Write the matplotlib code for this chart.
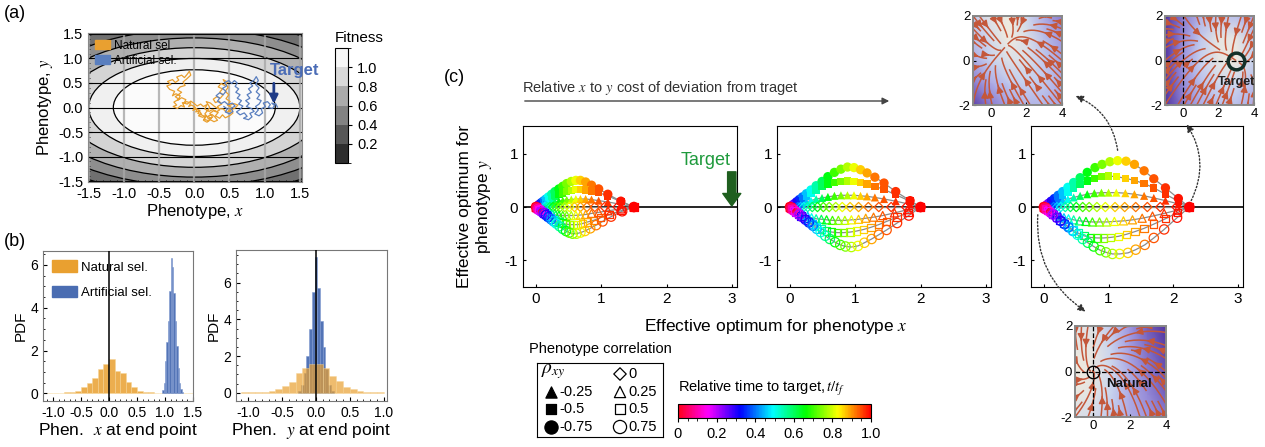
import numpy as np
import matplotlib
matplotlib.use("Agg")
import matplotlib.pyplot as plt
from matplotlib.patches import Ellipse, Patch
from matplotlib.colors import ListedColormap, BoundaryNorm, LinearSegmentedColormap, Normalize
from matplotlib.cm import ScalarMappable
from matplotlib.ticker import MultipleLocator

plt.rcParams['font.family'] = ['Liberation Sans', 'DejaVu Sans']
plt.rcParams['mathtext.fontset'] = 'stix'
plt.rcParams['axes.unicode_minus'] = False

W, H = 1265, 447

# ---------------- data: panel (a) ----------------
ell_a = [2.93, 2.67, 2.40, 2.13, 1.83, 1.50, 1.15]
ell_b = [1.95, 1.78, 1.60, 1.42, 1.22, 1.00, 0.77]
ell_gray = ['#555555', '#707070', '#8e8e8e', '#b0b0b0', '#d4d4d4', '#f0f0f0', '#fbfbfb']
fit_levels = [0, 0.2, 0.4, 0.6, 0.8, 1.0, 1.2]
fit_colors = ['#2e2e2e', '#575757', '#838383', '#ababab', '#d9d9d9', '#f7f7f7']

nat_path = [
    (0.00, 0.00), (0.04, -0.04), (0.02, -0.09), (0.07, -0.07), (0.10, -0.13), (0.06, -0.17),
    (0.12, -0.20), (0.17, -0.16), (0.14, -0.24), (0.20, -0.27), (0.24, -0.22), (0.19, -0.18),
    (0.25, -0.14), (0.29, -0.19), (0.33, -0.26), (0.28, -0.29), (0.23, -0.25), (0.18, -0.30),
    (0.13, -0.26), (0.16, -0.19), (0.10, -0.15), (0.05, -0.12), (0.08, -0.06), (0.03, -0.03),
    (-0.02, -0.06), (0.01, 0.01), (-0.04, 0.05), (-0.08, 0.02), (-0.05, 0.09), (-0.11, 0.12),
    (-0.15, 0.08), (-0.12, 0.16), (-0.18, 0.20), (-0.23, 0.15), (-0.20, 0.24), (-0.26, 0.28),
    (-0.31, 0.24), (-0.28, 0.33), (-0.35, 0.37), (-0.39, 0.44), (-0.33, 0.47), (-0.38, 0.53),
    (-0.31, 0.57), (-0.27, 0.51), (-0.22, 0.56), (-0.25, 0.62), (-0.18, 0.66), (-0.14, 0.61),
    (-0.10, 0.68), (-0.07, 0.74), (-0.05, 0.66), (-0.11, 0.58), (-0.16, 0.52), (-0.13, 0.45),
    (-0.20, 0.42), (-0.24, 0.36), (-0.18, 0.31), (-0.27, 0.22), (-0.22, 0.17), (-0.29, 0.11),
    (-0.25, 0.05), (-0.30, 0.02), (-0.24, -0.02), (-0.19, 0.04), (-0.14, 0.01), (-0.17, 0.10),
    (-0.10, 0.07), (-0.05, 0.13), (0.00, 0.08), (0.04, 0.03), (0.09, 0.07), (0.13, 0.02),
    (0.18, 0.06), (0.15, -0.03), (0.21, -0.08), (0.26, -0.04), (0.31, -0.09), (0.36, -0.05),
    (0.33, 0.02), (0.39, 0.07), (0.35, 0.13), (0.30, 0.10), (0.27, 0.17), (0.32, 0.22),
    (0.37, 0.19), (0.41, 0.26), (0.36, 0.31), (0.40, 0.38), (0.34, 0.42), (0.38, 0.49),
    (0.43, 0.45), (0.47, 0.52), (0.41, 0.57), (0.44, 0.50), (0.48, 0.41), (0.44, 0.33),
    (0.49, 0.26), (0.45, 0.18), (0.51, 0.12), (0.47, 0.05), (0.53, 0.00), (0.49, -0.07),
    (0.55, -0.11), (0.50, -0.17), (0.44, -0.21), (0.40, -0.15), (0.36, -0.22), (0.30, -0.17),
    (0.34, -0.10), (0.28, -0.06), (0.22, -0.12), (0.26, -0.20), (0.20, -0.23), (0.15, -0.13),
    (0.22, 0.00), (0.17, 0.12), (0.23, 0.09), (0.28, 0.03), (0.33, -0.02), (0.41, -0.03),
    (0.46, -0.10), (0.52, -0.05), (0.58, -0.01), (0.62, 0.05), (0.56, 0.08), (0.50, 0.04),
]
art_path = [
    (0.42, 0.02), (0.47, -0.03), (0.44, -0.09), (0.50, -0.13), (0.55, -0.08), (0.52, -0.02),
    (0.58, 0.03), (0.54, 0.09), (0.48, 0.06), (0.43, 0.12), (0.38, 0.08), (0.33, 0.13),
    (0.36, 0.19), (0.31, 0.24), (0.36, 0.30), (0.41, 0.26), (0.45, 0.33), (0.40, 0.39),
    (0.46, 0.44), (0.43, 0.51), (0.49, 0.55), (0.53, 0.49), (0.57, 0.55), (0.61, 0.50),
    (0.58, 0.43), (0.63, 0.38), (0.59, 0.31), (0.65, 0.26), (0.61, 0.19), (0.67, 0.14),
    (0.63, 0.07), (0.69, 0.03), (0.65, -0.04), (0.60, -0.09), (0.65, -0.15), (0.71, -0.11),
    (0.75, -0.18), (0.70, -0.22), (0.77, -0.25), (0.82, -0.19), (0.79, -0.12), (0.85, -0.08),
    (0.81, -0.02), (0.74, 0.02), (0.78, 0.08), (0.73, 0.14), (0.79, 0.19), (0.75, 0.26),
    (0.81, 0.31), (0.77, 0.38), (0.83, 0.44), (0.79, 0.50), (0.85, 0.56), (0.88, 0.63),
    (0.91, 0.55), (0.87, 0.47), (0.92, 0.40), (0.88, 0.32), (0.93, 0.26), (0.89, 0.18),
    (0.95, 0.14), (0.92, 0.07), (0.87, 0.02), (0.91, -0.05), (0.86, -0.13), (0.92, -0.17),
    (0.97, -0.11), (0.95, -0.03), (1.01, 0.02), (0.98, 0.09), (1.04, 0.12), (1.08, 0.06),
    (1.05, 0.00), (1.11, -0.02), (1.14, 0.04), (1.10, 0.09), (1.16, 0.07), (1.18, 0.01),
]

# ---------------- data: panel (b) ----------------
hx_nat_edges = [-1.1, -1.0, -0.9, -0.8, -0.7, -0.6, -0.5, -0.4, -0.3, -0.2, -0.1, 0.0, 0.1, 0.2,
                0.3, 0.4, 0.5, 0.6, 0.7, 0.8, 0.9, 1.0, 1.1, 1.2, 1.3, 1.4, 1.5]
hx_nat = [0.02, 0.02, 0.03, 0.05, 0.06, 0.12, 0.28, 0.47, 0.73, 1.14, 1.37, 1.62, 1.06, 0.97,
          0.55, 0.31, 0.10, 0.08, 0.05, 0.03, 0.02, 0.02, 0.02, 0.02, 0.02, 0.02]
hx_art_edges = [0.95, 0.975, 1.0, 1.025, 1.05, 1.075, 1.1, 1.125, 1.15, 1.175, 1.2, 1.225,
                1.25, 1.275, 1.3, 1.325]
hx_art = [0.15, 0.5, 1.5, 2.4, 3.4, 4.8, 6.3, 5.9, 4.7, 3.4, 2.2, 1.2, 0.5, 0.2, 0.05]

hy_nat_edges = [-1.1, -1.0, -0.9, -0.8, -0.7, -0.6, -0.5, -0.4, -0.3, -0.2, -0.1, 0.0, 0.1, 0.2,
                0.3, 0.4, 0.5, 0.6, 0.7, 0.8, 0.9, 1.0]
hy_nat = [0.03, 0.03, 0.04, 0.05, 0.1, 0.2, 0.35, 0.6, 1.05, 1.33, 1.56, 1.56, 1.33, 0.93,
          0.64, 0.3, 0.18, 0.1, 0.06, 0.04, 0.04]
hy_art_edges = [-0.26, -0.22, -0.18, -0.14, -0.10, -0.06, -0.02, 0.02, 0.06, 0.10, 0.14, 0.18,
                0.22, 0.26]
hy_art = [0.1, 0.4, 1.1, 2.0, 3.5, 5.5, 7.4, 5.7, 3.9, 2.5, 1.3, 0.4, 0.1]

# ---------------- data: panel (c) ----------------
T = [0.0, 0.05, 0.1, 0.15, 0.2, 0.25, 0.3, 0.35, 0.4, 0.45, 0.5, 0.55, 0.6, 0.65, 0.7,
     0.74, 0.78, 0.82, 0.86, 0.89, 0.92, 0.945, 0.965, 0.985, 1.0]

# panel 1
c1_x_n75 = [0, .005, .01, .015, .025, .04, .06, .085, .115, .15, .19, .24, .29, .35, .41, .47,
            .54, .61, .68, .76, .85, .96, 1.1, 1.3, 1.5]
c1_y_n75 = [0, .005, .01, .015, .025, .04, .06, .085, .115, .15, .19, .24, .29, .34, .39, .44,
            .48, .5, .5, .47, .41, .34, .24, .11, 0]
c1_y_n50 = [0, .004, .008, .012, .02, .03, .045, .065, .085, .11, .14, .17, .2, .23, .26, .29,
            .31, .33, .33, .32, .3, .27, .21, .1, 0]
c1_y_n25 = [0, .002, .004, .006, .01, .015, .022, .03, .04, .05, .065, .08, .095, .11, .12, .135,
            .14, .15, .15, .15, .14, .12, .095, .05, 0]
c1_x_0 = [0, .004, .008, .012, .02, .03, .045, .06, .08, .105, .135, .17, .21, .26, .31, .37,
          .44, .51, .59, .68, .78, .9, 1.05, 1.25, 1.5]
c1_x_p25 = [0, .008, .016, .03, .045, .065, .085, .11, .14, .17, .21, .25, .3, .35, .41, .47,
            .54, .61, .68, .76, .85, .96, 1.1, 1.3, 1.5]
c1_y_p25 = [0, -.008, -.016, -.028, -.04, -.055, -.07, -.085, -.1, -.115, -.13, -.14, -.15,
            -.155, -.16, -.16, -.16, -.155, -.15, -.14, -.12, -.1, -.07, -.035, 0]
c1_x_p50 = [0, .01, .025, .045, .07, .095, .12, .15, .18, .22, .26, .3, .35, .4, .45, .51, .57,
            .64, .71, .79, .88, .99, 1.12, 1.3, 1.5]
c1_y_p50 = [0, -.01, -.025, -.045, -.07, -.09, -.11, -.14, -.17, -.2, -.23, -.26, -.28, -.3,
            -.32, -.33, -.33, -.33, -.31, -.28, -.25, -.2, -.14, -.07, 0]
c1_x_p75 = [0, .015, .035, .06, .09, .12, .15, .19, .23, .27, .31, .36, .41, .46, .51, .56, .62,
            .68, .75, .83, .92, 1.02, 1.15, 1.32, 1.5]
c1_y_p75 = [0, -.015, -.035, -.06, -.09, -.12, -.15, -.19, -.23, -.27, -.31, -.36, -.41, -.45,
            -.48, -.5, -.5, -.48, -.45, -.4, -.34, -.27, -.18, -.08, 0]

# panel 2
c2_x_n75 = [0, .005, .01, .02, .035, .06, .1, .14, .19, .25, .32, .40, .49, .58, .68, .78, .88,
            .98, 1.08, 1.18, 1.30, 1.44, 1.62, 1.84, 2.0]
c2_y_n75 = [0, .005, .01, .02, .035, .06, .1, .14, .19, .25, .32, .40, .48, .57, .65, .71, .75,
            .74, .70, .64, .56, .45, .29, .12, 0]
c2_y_n50 = [0, .004, .008, .016, .03, .05, .08, .11, .15, .2, .26, .32, .38, .43, .46, .48, .49,
            .48, .46, .43, .39, .33, .23, .11, 0]
c2_y_n25 = [0, .002, .004, .008, .015, .025, .04, .055, .075, .1, .12, .15, .17, .19, .21, .22,
            .22, .22, .21, .2, .18, .15, .11, .05, 0]
c2_x_0 = [0, .005, .01, .02, .03, .045, .065, .09, .12, .16, .21, .27, .34, .42, .51, .6, .7, .8,
          .92, 1.05, 1.2, 1.36, 1.55, 1.78, 2.0]
c2_x_p25 = [0, .01, .02, .04, .06, .09, .12, .16, .21, .27, .33, .4, .48, .56, .65, .74, .84,
            .94, 1.05, 1.16, 1.28, 1.42, 1.6, 1.8, 2.0]
c2_y_p25 = [0, -.01, -.02, -.035, -.05, -.07, -.09, -.12, -.15, -.17, -.2, -.22, -.23, -.24,
            -.25, -.25, -.25, -.24, -.23, -.21, -.19, -.16, -.11, -.05, 0]
c2_x_p50 = [0, .015, .03, .06, .09, .13, .17, .22, .28, .34, .41, .48, .56, .64, .73, .82, .92,
            1.02, 1.13, 1.24, 1.36, 1.48, 1.64, 1.82, 2.0]
c2_y_p50 = [0, -.015, -.03, -.06, -.09, -.13, -.17, -.22, -.27, -.32, -.37, -.41, -.45, -.47,
            -.48, -.48, -.47, -.45, -.42, -.38, -.33, -.27, -.19, -.1, 0]
c2_x_p75 = [0, .02, .05, .09, .14, .19, .24, .29, .35, .41, .47, .54, .61, .69, .77, .85, .94,
            1.04, 1.14, 1.25, 1.36, 1.48, 1.64, 1.82, 2.0]
c2_y_p75 = [0, -.02, -.05, -.09, -.14, -.19, -.24, -.29, -.35, -.41, -.47, -.54, -.6, -.66,
            -.71, -.74, -.75, -.73, -.67, -.6, -.52, -.43, -.3, -.16, 0]

# panel 3
c3_x_n75 = [0, .005, .01, .02, .04, .07, .11, .16, .22, .29, .37, .46, .56, .67, .79, .90, 1.02,
            1.14, 1.27, 1.40, 1.55, 1.70, 1.88, 2.08, 2.25]
c3_y_n75 = [0, .005, .01, .02, .04, .07, .11, .16, .22, .29, .37, .46, .55, .65, .74, .80, .85,
            .87, .86, .80, .68, .53, .36, .16, 0]
c3_x_n50 = [0, .005, .01, .02, .04, .07, .11, .16, .22, .29, .37, .46, .56, .67, .78, .89, 1.0,
            1.12, 1.26, 1.40, 1.55, 1.70, 1.88, 2.08, 2.25]
c3_y_n50 = [0, .004, .008, .016, .032, .055, .085, .12, .17, .22, .28, .35, .42, .49, .54, .57,
            .58, .57, .54, .50, .44, .36, .24, .11, 0]
c3_y_n25 = [0, .002, .004, .008, .016, .03, .045, .065, .09, .12, .15, .18, .21, .24, .26, .27,
            .27, .27, .26, .24, .21, .17, .12, .06, 0]
c3_x_0 = [0, .005, .01, .02, .035, .055, .08, .11, .15, .2, .26, .33, .41, .5, .6, .7, .82, .95,
          1.1, 1.25, 1.42, 1.6, 1.8, 2.05, 2.25]
c3_x_p25 = [0, .01, .02, .04, .07, .1, .14, .19, .25, .31, .38, .46, .55, .65, .75, .86, .97,
            1.09, 1.23, 1.37, 1.52, 1.68, 1.86, 2.06, 2.25]
c3_y_p25 = [0, -.01, -.02, -.04, -.06, -.08, -.11, -.14, -.17, -.2, -.22, -.24, -.26, -.27,
            -.28, -.28, -.28, -.27, -.26, -.24, -.21, -.17, -.12, -.06, 0]
c3_x_p50 = [0, .015, .03, .06, .1, .14, .19, .25, .31, .38, .45, .53, .62, .72, .82, .92, 1.03,
            1.15, 1.28, 1.41, 1.55, 1.70, 1.88, 2.07, 2.25]
c3_y_p50 = [0, -.015, -.03, -.06, -.1, -.14, -.19, -.25, -.31, -.37, -.43, -.49, -.54, -.57,
            -.58, -.58, -.57, -.55, -.51, -.46, -.40, -.32, -.22, -.1, 0]
c3_x_p75 = [0, .02, .05, .09, .14, .2, .26, .32, .38, .45, .52, .6, .68, .77, .87, .96, 1.06,
            1.17, 1.3, 1.42, 1.56, 1.70, 1.86, 2.06, 2.25]
c3_y_p75 = [0, -.02, -.05, -.09, -.14, -.2, -.26, -.32, -.38, -.45, -.52, -.6, -.67, -.74, -.81,
            -.85, -.88, -.88, -.86, -.8, -.71, -.58, -.42, -.2, 0]

# ---------------- data: insets (grid nodes) ----------------
ins_x = [-1, 0, 1, 2, 3, 4]
ins_y = [-2, -1, 0, 1, 2]
bg1 = [[0.95, 0.75, 0.60, 0.50, 0.50, 0.60],
       [0.75, 0.55, 0.40, 0.35, 0.40, 0.55],
       [0.55, 0.35, 0.20, 0.20, 0.40, 0.60],
       [0.45, 0.25, 0.05, 0.20, 0.45, 0.65],
       [0.40, 0.15, 0.05, 0.30, 0.55, 0.75]]
u1 = [[0.20, -0.41, -1.03, -1.64, -2.25, -2.87],
      [0.55, -0.07, -0.68, -1.29, -1.90, -2.52],
      [0.90, 0.28, -0.33, -0.94, -1.56, -2.17],
      [1.24, 0.63, 0.02, -0.60, -1.21, -1.82],
      [1.59, 0.98, 0.36, -0.25, -0.86, -1.48]]
v1 = [[1.15, 1.50, 1.84, 2.19, 2.54, 2.88],
      [0.47, 0.81, 1.16, 1.51, 1.86, 2.20],
      [-0.22, 0.13, 0.48, 0.83, 1.17, 1.52],
      [-0.90, -0.55, -0.20, 0.14, 0.49, 0.84],
      [-1.58, -1.23, -0.89, -0.54, -0.19, 0.16]]
bg2 = [[1.00, 0.75, 0.55, 0.45, 0.45, 0.55],
       [1.00, 0.70, 0.45, 0.30, 0.30, 0.45],
       [1.00, 0.65, 0.35, 0.12, 0.05, 0.35],
       [1.00, 0.70, 0.40, 0.12, 0.12, 0.40],
       [1.00, 0.75, 0.50, 0.40, 0.45, 0.60]]
u2 = [[2.7, 2.2, 1.7, 1.2, 0.7, 0.2],
      [2.35, 1.85, 1.35, 0.85, 0.35, -0.15],
      [2.0, 1.5, 1.0, 0.5, 0.0, -0.5],
      [1.65, 1.15, 0.65, 0.15, -0.35, -0.85],
      [1.3, 0.8, 0.3, -0.2, -0.7, -1.2]]
v2 = [[3.4, 3.05, 2.7, 2.35, 2.0, 1.65],
      [2.4, 2.05, 1.7, 1.35, 1.0, 0.65],
      [1.4, 1.05, 0.7, 0.35, 0.0, -0.35],
      [0.4, 0.05, -0.3, -0.65, -1.0, -1.35],
      [-0.6, -0.95, -1.3, -1.65, -2.0, -2.35]]
bg3 = [[0.20, 0.25, 0.40, 0.55, 0.65, 0.75],
       [0.10, 0.15, 0.35, 0.55, 0.70, 0.85],
       [0.05, 0.10, 0.30, 0.55, 0.75, 0.90],
       [0.10, 0.12, 0.35, 0.60, 0.80, 0.95],
       [0.15, 0.18, 0.40, 0.65, 0.85, 1.00]]
u3 = [[1.3, 0.6, -0.1, -0.8, -1.5, -2.2],
      [1.0, 0.3, -0.4, -1.1, -1.8, -2.5],
      [0.7, 0.0, -0.7, -1.4, -2.1, -2.8],
      [0.4, -0.3, -1.0, -1.7, -2.4, -3.1],
      [0.1, -0.6, -1.3, -2.0, -2.7, -3.4]]
v3 = [[1.3, 1.8, 2.3, 2.8, 3.3, 3.8],
      [0.4, 0.9, 1.4, 1.9, 2.4, 2.9],
      [-0.5, 0.0, 0.5, 1.0, 1.5, 2.0],
      [-1.4, -0.9, -0.4, 0.1, 0.6, 1.1],
      [-2.3, -1.8, -1.3, -0.8, -0.3, 0.2]]

ORANGE = '#e9a030'
BLUE = '#5a7fbf'
HBLUE = '#4a6db2'

fig = plt.figure(figsize=(W / 100, H / 100), dpi=100)


def px_axes(l, t, r, b):
    return fig.add_axes([l / W, 1 - b / H, (r - l) / W, (b - t) / H])


def fig_text(x, y, s, **kw):
    fig.text(x / W, 1 - y / H, s, **kw)


# ================= panel (a) =================
ax = px_axes(88, 33, 302, 182)
ax.set_facecolor('#3a3a3a')
for a, b, g in zip(ell_a, ell_b, ell_gray):
    ax.add_patch(Ellipse((0, 0), 2 * a, 2 * b, facecolor=g, edgecolor='k', lw=0.9, zorder=1))
for v in [-1.5, -1.0, -0.5, 0.0, 0.5, 1.0, 1.5]:
    ax.axvline(v, color='#a8a8a8', lw=1.6, alpha=0.8, zorder=2)
    ax.axhline(v, color='k', lw=0.8, zorder=2)
ax.plot([p[0] for p in nat_path], [p[1] for p in nat_path], color=ORANGE, lw=0.9, zorder=3)
ax.plot([p[0] for p in art_path], [p[1] for p in art_path], color=BLUE, lw=0.9, zorder=4)
ax.annotate('', xy=(1.13, 0.02), xytext=(1.13, 0.55),
            arrowprops=dict(arrowstyle='-|>', color='#1f3c88', lw=2, mutation_scale=12), zorder=5)
ax.text(1.07, 0.76, 'Target', color='#4a6cb6', fontsize=12, fontweight='bold',
        va='center', ha='left', clip_on=False, zorder=6)
ax.legend(handles=[Patch(color=ORANGE, label='Natural sel.'), Patch(color=BLUE, label='Artificial sel.')],
          loc='upper left', frameon=False, fontsize=8.5, handlelength=1.3, handleheight=0.8,
          borderaxespad=0.2, labelspacing=0.25, handletextpad=0.3)
ax.set_xlim(-1.51, 1.53)
ax.set_ylim(-1.52, 1.52)
ax.set_xticks([-1.5, -1.0, -0.5, 0.0, 0.5, 1.0, 1.5])
ax.set_yticks([-1.5, -1.0, -0.5, 0.0, 0.5, 1.0, 1.5])
ax.set_xticklabels(['-1.5', '-1.0', '-0.5', '0.0', '0.5', '1.0', '1.5'])
ax.set_yticklabels(['-1.5', '-1.0', '-0.5', '0.0', '0.5', '1.0', '1.5'])
ax.xaxis.set_minor_locator(MultipleLocator(0.1))
ax.yaxis.set_minor_locator(MultipleLocator(0.1))
ax.tick_params(which='both', direction='in', labelsize=10.5, length=3)
ax.tick_params(which='minor', length=1.5)
for s in ax.spines.values():
    s.set_color('#888888')
ax.set_xlabel('Phenotype, $x$', fontsize=12, labelpad=1)
ax.set_ylabel('Phenotype, $y$', fontsize=12, labelpad=2)

cax = px_axes(335, 48, 348, 163)
fig.colorbar(ScalarMappable(norm=BoundaryNorm(fit_levels, 6), cmap=ListedColormap(fit_colors)),
             cax=cax, ticks=[0.2, 0.4, 0.6, 0.8, 1.0])
cax.set_yticklabels(['0.2', '0.4', '0.6', '0.8', '1.0'])
cax.tick_params(labelsize=10.5, length=3)
fig_text(335, 38, 'Fitness', fontsize=11, va='center', ha='left')

fig_text(4, 14, '(a)', fontsize=13, va='center')
fig_text(4, 241, '(b)', fontsize=13, va='center')
fig_text(444, 77, '(c)', fontsize=13, va='center')

# ================= panel (b) =================
def hist_bars(axh, edges, vals, color, edge, alpha, z):
    axh.bar(edges[:-1], vals, width=np.diff(edges), align='edge', color=color, alpha=alpha,
            edgecolor=edge, lw=0.4, zorder=z)


bx = px_axes(43, 251, 193, 401)
hist_bars(bx, hx_nat_edges, hx_nat, ORANGE, '#f6d596', 0.85, 2)
hist_bars(bx, hx_art_edges, hx_art, HBLUE, '#7d98cf', 0.95, 3)
bx.axvline(0, color='k', lw=1.1, zorder=4)
bx.set_xlim(-1.18, 1.48)
bx.set_ylim(-0.36, 6.65)
bx.set_xticks([-1.0, -0.5, 0.0, 0.5, 1.0, 1.5])
bx.set_xticklabels(['-1.0', '-0.5', '0.0', '0.5', '1.0', '1.5'])
bx.set_yticks([0, 2, 4, 6])
bx.legend(handles=[Patch(color=ORANGE, label='Natural sel.'), Patch(color=HBLUE, label='Artificial sel.')],
          loc='upper left', frameon=False, fontsize=9.5, handlelength=1.9, handleheight=1.0,
          borderaxespad=0.3, labelspacing=0.9, handletextpad=0.3)
bx.set_xlabel('Phen.  $x$ at end point', fontsize=12.5, labelpad=1)
bx.set_ylabel('PDF', fontsize=11, labelpad=2)

by = px_axes(236, 250, 387, 401)
hist_bars(by, hy_art_edges, hy_art, HBLUE, '#7d98cf', 0.95, 2)
hist_bars(by, hy_nat_edges, hy_nat, ORANGE, '#f6d596', 0.7, 3)
by.axvline(0, color='k', lw=1.1, zorder=4)
by.set_xlim(-1.18, 1.05)
by.set_ylim(-0.45, 7.78)
by.set_xticks([-1.0, -0.5, 0.0, 0.5, 1.0])
by.set_xticklabels(['-1.0', '-0.5', '0.0', '0.5', '1.0'])
by.set_yticks([0, 2, 4, 6])
by.set_xlabel('Phen.  $y$ at end point', fontsize=12.5, labelpad=1)
by.set_ylabel('PDF', fontsize=11, labelpad=2)

for a_ in (bx, by):
    a_.xaxis.set_minor_locator(MultipleLocator(0.1))
    a_.yaxis.set_minor_locator(MultipleLocator(0.5))
    a_.tick_params(which='both', direction='in', labelsize=10, length=3)
    a_.tick_params(which='minor', length=1.5)
    for s in a_.spines.values():
        s.set_color('#777777')

# ================= panel (c) =================
cm = plt.get_cmap('hsv_r')
c_panels = [
    [(c1_x_n75, c1_y_n75, 'o', True), (c1_x_n75, c1_y_n50, 's', True), (c1_x_n75, c1_y_n25, '^', True),
     (c1_x_0, [0] * len(c1_x_0), 'D', False), (c1_x_p25, c1_y_p25, '^', False),
     (c1_x_p50, c1_y_p50, 's', False), (c1_x_p75, c1_y_p75, 'o', False)],
    [(c2_x_n75, c2_y_n75, 'o', True), (c2_x_n75, c2_y_n50, 's', True), (c2_x_n75, c2_y_n25, '^', True),
     (c2_x_0, [0] * len(c2_x_0), 'D', False), (c2_x_p25, c2_y_p25, '^', False),
     (c2_x_p50, c2_y_p50, 's', False), (c2_x_p75, c2_y_p75, 'o', False)],
    [(c3_x_n75, c3_y_n75, 'o', True), (c3_x_n50, c3_y_n50, 's', True), (c3_x_n50, c3_y_n25, '^', True),
     (c3_x_0, [0] * len(c3_x_0), 'D', False), (c3_x_p25, c3_y_p25, '^', False),
     (c3_x_p50, c3_y_p50, 's', False), (c3_x_p75, c3_y_p75, 'o', False)],
]
msize = {'o': 45, 's': 28, '^': 34, 'D': 22}
c_boxes = [(523, 737), (777, 991), (1031, 1243)]
c_axes = []
for (l, r), curves in zip(c_boxes, c_panels):
    axc = px_axes(l, 126, r, 287)
    axc.axhline(0, color='k', lw=1.2, zorder=1)
    for xs, ys, m, filled in curves:
        axc.plot(xs, ys, color='#8a8a8a', lw=0.9, zorder=2)
        if filled:
            axc.scatter(xs, ys, c=T, cmap=cm, vmin=0, vmax=1, marker=m, s=msize[m],
                        edgecolors='none', zorder=3)
        else:
            axc.scatter(xs, ys, marker=m, s=msize[m], facecolors='none',
                        edgecolors=cm(np.array(T)), linewidths=0.9, zorder=3)
    axc.set_xlim(-0.2, 3.08)
    axc.set_ylim(-1.5, 1.52)
    axc.set_xticks([0, 1, 2, 3])
    axc.set_yticks([-1, 0, 1])
    axc.tick_params(direction='in', length=2, labelsize=11)
    c_axes.append(axc)

c_axes[0].set_ylabel('Effective optimum for\nphenotype $y$', fontsize=12.5, labelpad=8,
                     linespacing=1.1)
c_axes[0].annotate('', xy=(3.0, 0.02), xytext=(3.0, 0.66),
                   arrowprops=dict(facecolor='#1f5f1f', edgecolor='#1f5f1f', width=6,
                                   headwidth=13, headlength=9))
c_axes[0].text(2.6, 0.88, 'Target', color='#1e9a3c', fontsize=13, ha='center', va='center')
fig_text(776, 327, 'Effective optimum for phenotype $x$', fontsize=12.5, ha='center', va='center')

fig_text(522, 88, 'Relative $x$ to $y$ cost of deviation from traget', fontsize=10.5,
         color='#333333', va='center')
fig.add_artist(matplotlib.patches.FancyArrowPatch((522 / W, 1 - 101 / H), (892 / W, 1 - 101 / H),
                                                  transform=fig.transFigure, arrowstyle='-|>',
                                                  mutation_scale=10, color='#444444', lw=1))

# legend box for rho
fig_text(529, 349, 'Phenotype correlation', fontsize=10.5, va='center')
lg = px_axes(537, 363, 663, 437)
lg.set_xlim(537, 663)
lg.set_ylim(437, 363)
lg.set_xticks([])
lg.set_yticks([])
lg.text(541, 372, r'$\rho_{xy}$', fontsize=14, va='center')
leg_rows = [(620, 374, 'D', False, '0'), (551, 392, '^', True, '-0.25'), (620, 392, '^', False, '0.25'),
            (551, 409, 's', True, '-0.5'), (620, 409, 's', False, '0.5'),
            (551, 427, 'o', True, '-0.75'), (620, 427, 'o', False, '0.75')]
for x0, y0, m, filled, lab in leg_rows:
    lg.scatter([x0], [y0], marker=m, s={'o': 90, 's': 60, '^': 65, 'D': 40}[m],
               facecolors='k' if filled else 'none', edgecolors='k', linewidths=0.9)
    lg.text(x0 + 8, y0, lab, fontsize=10.5, va='center')

# time colorbar
fig_text(678, 388, 'Relative time to target,$\\,t/t_f$', fontsize=10.5, va='center')
tax = px_axes(678, 404, 871, 418)
fig.colorbar(ScalarMappable(norm=Normalize(0, 1), cmap=cm), cax=tax, orientation='horizontal',
             ticks=[0, 0.2, 0.4, 0.6, 0.8, 1.0])
tax.set_xticklabels(['0', '0.2', '0.4', '0.6', '0.8', '1.0'])
tax.xaxis.set_minor_locator(MultipleLocator(0.05))
tax.tick_params(which='both', labelsize=10.5, length=3)
tax.tick_params(which='minor', length=2)

# ================= insets =================
bg_cmap = LinearSegmentedColormap.from_list('bg', ['#f6eedb', '#c9d5ef', '#9c93de', '#5234a0'])
gx, gy = np.meshgrid(ins_x, ins_y)
ins_specs = [((973, 16, 1062, 105), bg1, u1, v1),
             ((1165, 16, 1254, 105), bg2, u2, v2),
             ((1075, 326, 1166, 417), bg3, u3, v3)]
ins_axes = []
for box, bg, u, v in ins_specs:
    ai = px_axes(*box)
    ai.pcolormesh(gx, gy, np.array(bg), cmap=bg_cmap, vmin=0, vmax=1, shading='gouraud')
    ai.streamplot(np.array(ins_x, float), np.array(ins_y, float), np.array(u), np.array(v),
                  color='#c4573a', density=0.5, linewidth=1.1, arrowsize=1.0)
    ai.set_xlim(-1, 4)
    ai.set_ylim(-2, 2)
    ai.set_xticks([0, 2, 4])
    ai.set_yticks([-2, 0, 2])
    ai.tick_params(direction='in', length=2, labelsize=9.5, pad=2)
    for s in ai.spines.values():
        s.set_color('#888888')
        s.set_linewidth(1.4)
    ins_axes.append(ai)

for ai in ins_axes[1:]:
    ai.axvline(0, color='k', lw=0.9, ls='--')
    ai.axhline(0, color='k', lw=0.9, ls='--')
ins_axes[1].plot([3], [0], 'o', ms=12, mfc='none', mec='#143028', mew=2.5)
ins_axes[1].text(3.0, -0.95, 'Target', fontsize=9, fontweight='bold', color='#222222',
                 ha='center', va='center')
ins_axes[2].plot([0], [0], 'o', ms=9, mfc='none', mec='k', mew=1)
ins_axes[2].text(1.95, -0.55, 'Natural', fontsize=9.5, fontweight='bold', color='#111111',
                 ha='center', va='center')

# dotted pointer arrows (figure pixel coordinates)
for (x1, y1), (x2, y2) in [((1118, 153), (1073, 95)), ((1190, 203), (1185, 122)),
                           ((1038, 212), (1088, 313))]:
    fig.add_artist(matplotlib.patches.FancyArrowPatch(
        (x1 / W, 1 - y1 / H), (x2 / W, 1 - y2 / H), transform=fig.transFigure,
        connectionstyle='arc3,rad=0.3', arrowstyle='-|>', mutation_scale=11,
        color='#333333', lw=1, ls=(0, (1, 1.5))))

fig.savefig('out.png', dpi=100)
